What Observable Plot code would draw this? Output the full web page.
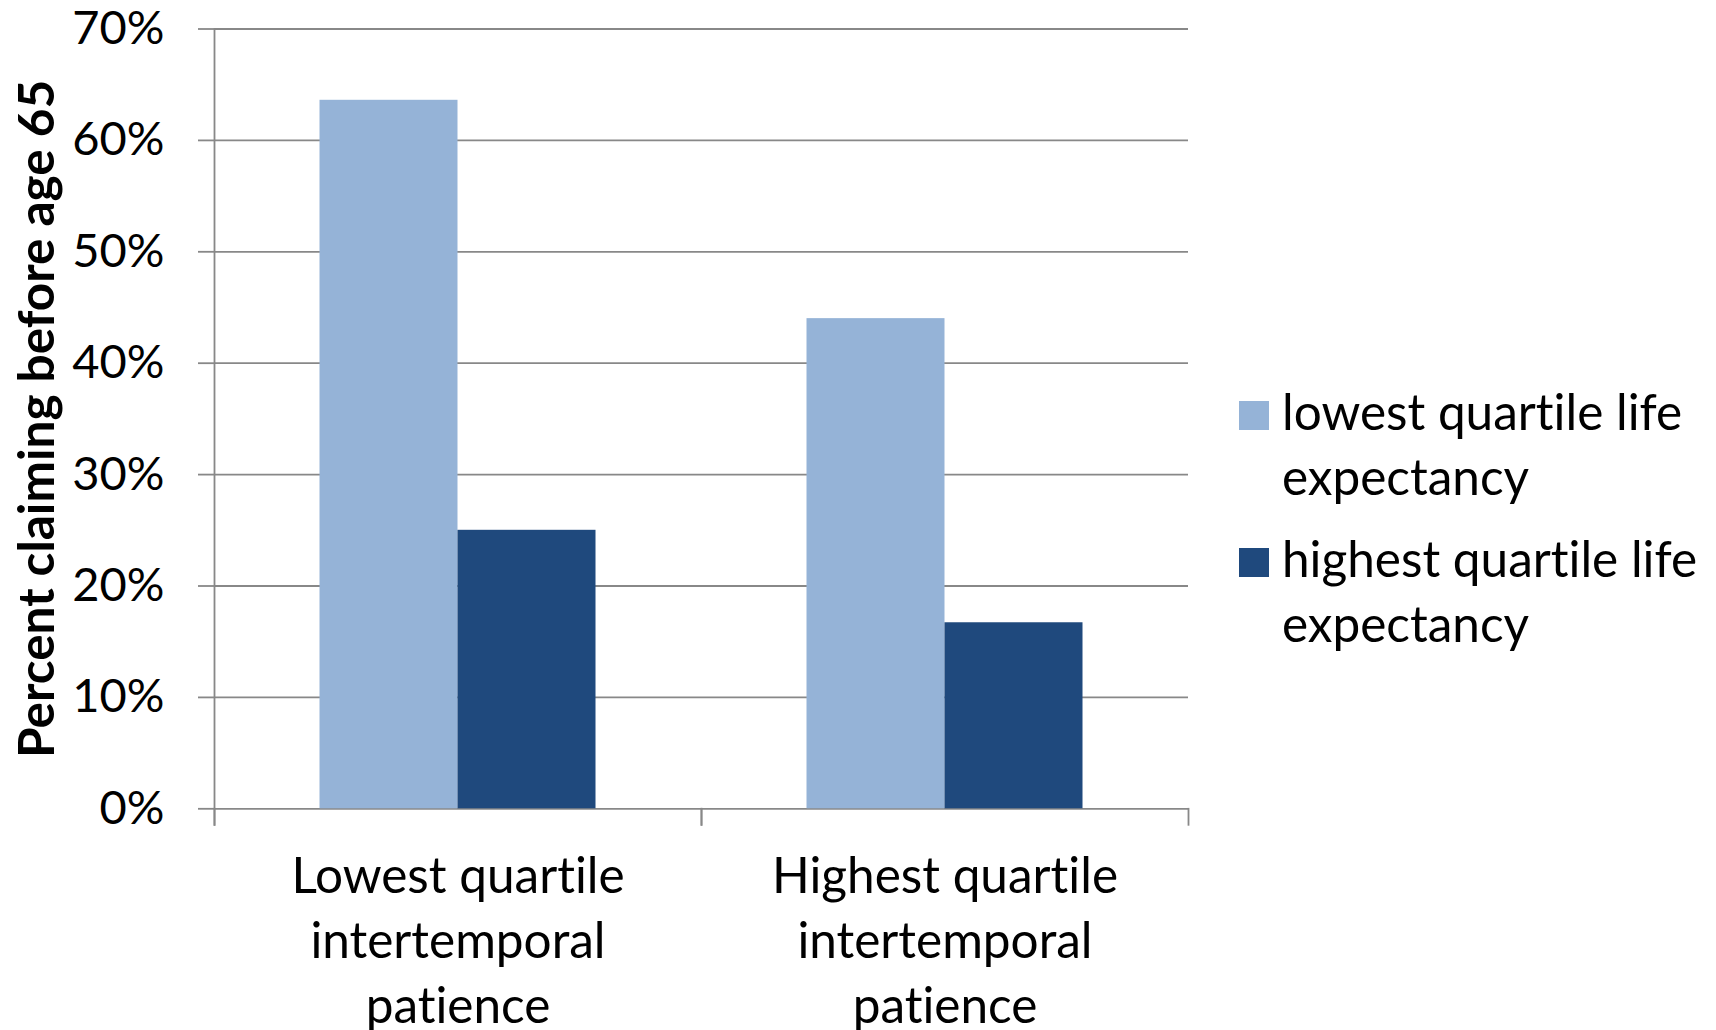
<!DOCTYPE html>
<html>
<head>
<meta charset="utf-8">
<script src="https://cdn.jsdelivr.net/npm/d3@7"></script>
<script src="https://cdn.jsdelivr.net/npm/@observablehq/plot@0.6"></script>
<style>
  html, body { margin: 0; padding: 0; background: #fff; }
  #chart { position: relative; width: 1716px; height: 1030px; font-family: Lato, "Open Sans", sans-serif; color: #000; font-variant-ligatures: none; }
  #chart svg { display: block; }
  #chart svg text { font-variant-ligatures: none; }
  #chart [aria-label="y-axis label"] { font-weight: bold; font-size: 49.5px; }
  #legend { position: absolute; left: 1239px; top: 378.5px; display: flex; flex-direction: column; gap: 17px; }
  .item { display: flex; align-items: flex-start; }
  .sw { width: 30px; height: 29px; margin-top: 22.5px; margin-right: 13px; flex: none; }
  .lbl { width: 440px; font-size: 49.5px; line-height: 65px; }
</style>
</head>
<body>
<div id="chart"></div>
<script>
// Share of people claiming benefits before age 65, by patience quartile and life-expectancy quartile
const categories = [
  "Lowest quartile\nintertemporal\npatience",
  "Highest quartile\nintertemporal\npatience"
];
const series = [
  "lowest quartile life expectancy",
  "highest quartile life expectancy"
];
const lowestLifeExpectancy = [0.636, 0.440];
const highestLifeExpectancy = [0.250, 0.167];
const colors = ["#95b3d7", "#1f497d"];
const yTicks = [0, 0.1, 0.2, 0.3, 0.4, 0.5, 0.6, 0.7];

const rows = categories.flatMap((c, i) => [
  {category: c, series: series[0], value: lowestLifeExpectancy[i]},
  {category: c, series: series[1], value: highestLifeExpectancy[i]}
]);

const gray = "#888888";
const font = "Lato, 'Open Sans', sans-serif";

const chart = Plot.plot({
  width: 1716,
  height: 1030,
  marginTop: 28.5,
  marginLeft: 213.5,
  marginRight: 527.5,
  marginBottom: 221.7,
  style: {fontFamily: font, color: "#000", background: "#fff", overflow: "visible"},
  fx: {domain: categories, padding: 0},
  x: {domain: series, paddingInner: 0, paddingOuter: 0.752, axis: null},
  y: {domain: [0, 0.7]},
  color: {domain: series, range: colors},
  marks: [
    Plot.gridY(yTicks, {stroke: gray, strokeOpacity: 1, strokeWidth: 1.8}),
    Plot.barY(rows, {fx: "category", x: "series", y: "value", fill: "series"}),
    // vertical axis line, extending slightly below the baseline
    Plot.frame({anchor: "left", facetAnchor: "left", stroke: gray, strokeWidth: 1.8, insetBottom: -16}),
    // category boundary ticks under the baseline
    Plot.frame({anchor: "left", stroke: gray, strokeWidth: 1.8, insetTop: 779.8, insetBottom: -16}),
    Plot.frame({anchor: "right", stroke: gray, strokeWidth: 1.8, insetTop: 779.8, insetBottom: -16}),
    Plot.axisY({
      ticks: yTicks,
      tickFormat: d3.format(".0%"),
      tickSize: 16,
      tickPadding: 34,
      stroke: gray,
      strokeWidth: 1.8,
      fontSize: 47,
      label: "Percent claiming before age 65",
      labelAnchor: "center",
      labelArrow: "none",
      labelOffset: 196
    }),
    Plot.axisFx({
      anchor: "bottom",
      tickSize: 0,
      tickPadding: 38,
      fontSize: 49.5,
      lineHeight: 65 / 49.5,
      label: null
    })
  ]
});

const root = document.getElementById("chart");
root.appendChild(chart);

// Legend on the right of the plot
const legend = document.createElement("div");
legend.id = "legend";
series.forEach((s, i) => {
  const item = document.createElement("div");
  item.className = "item";
  const sw = document.createElement("div");
  sw.className = "sw";
  sw.style.background = colors[i];
  const lbl = document.createElement("div");
  lbl.className = "lbl";
  lbl.textContent = s;
  item.appendChild(sw);
  item.appendChild(lbl);
  legend.appendChild(item);
});
root.appendChild(legend);
</script>
</body>
</html>
